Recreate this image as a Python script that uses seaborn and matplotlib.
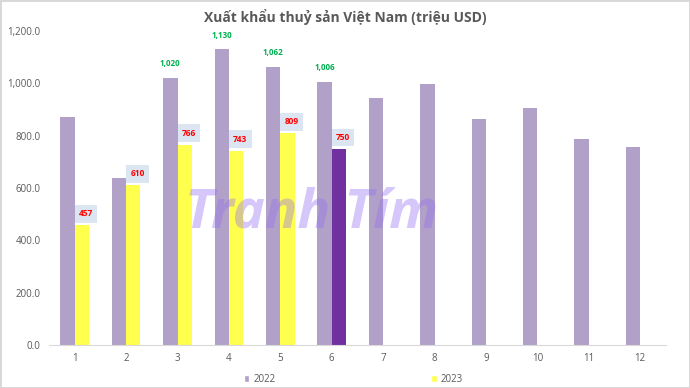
import matplotlib
matplotlib.use('Agg')
import matplotlib.pyplot as plt
from matplotlib.patches import Patch
import pandas as pd
import seaborn as sns

# du lieu (trieu USD)
thang = [str(i) for i in range(1, 13)]
xk_2022 = [870, 638, 1020, 1130, 1062, 1006, 943, 998, 862, 906, 787, 755]
xk_2023 = [457, 610, 766, 743, 809, 750]
nhan_2022 = ['', '', '1,020', '1,130', '1,062', '1,006', '', '', '', '', '', '']
nhan_2023 = ['457', '610', '766', '743', '809', '750']

df = pd.DataFrame({
    'thang': thang + thang[:len(xk_2023)],
    'gia_tri': xk_2022 + xk_2023,
    'nam': ['2022'] * len(xk_2022) + ['2023'] * len(xk_2023),
})

sns.set_style('white')
plt.rcParams['font.family'] = ['Open Sans', 'DejaVu Sans']

mau = {'2022': '#B1A0C7', '2023': '#FFFF4D'}
fig = plt.figure(figsize=(6.9, 3.88), dpi=100)
ax = fig.add_axes([0.071, 0.111, 0.894, 0.809])
sns.barplot(data=df, x='thang', y='gia_tri', hue='nam', order=thang,
            hue_order=['2022', '2023'], palette=mau, width=0.56,
            saturation=1, legend=False, ax=ax, edgecolor='none')

# thang 6 nam 2023 mau tim dam
ax.containers[1][5].set_facecolor('#7030A0')

# nhan 2022 (xanh la)
for bar, txt in zip(ax.containers[0], nhan_2022):
    if txt:
        ax.annotate(txt, (bar.get_x() + bar.get_width() / 2, bar.get_height()),
                    xytext=(0, 7), textcoords='offset points', ha='center', va='bottom',
                    fontsize=5.8, fontweight='bold', color='#00B050')

# nhan 2023 (do, nen xanh nhat)
for bar, txt in zip(ax.containers[1], nhan_2023):
    ax.annotate(txt, (bar.get_x() + bar.get_width() / 2, bar.get_height()),
                xytext=(3, 5), textcoords='offset points', ha='center', va='bottom',
                fontsize=6, fontweight='bold', color='#FF0000',
                bbox=dict(boxstyle='square,pad=0.5', facecolor='#DCE6F2', edgecolor='none'))

ax.set_ylim(0, 1200)
ax.set_yticks(range(0, 1201, 200))
ax.set_yticklabels([f'{v:,.1f}' for v in range(0, 1201, 200)])
ax.set_xlim(-0.5, 11.5)
ax.set_xlabel('')
ax.set_ylabel('')
ax.tick_params(axis='both', length=0, labelsize=7, labelcolor='#595959', pad=6)
sns.despine(ax=ax, left=True)
ax.spines['bottom'].set_color('#D9D9D9')

fig.text(0.5, 0.955, 'Xuất khẩu thuỷ sản Việt Nam (triệu USD)', ha='center', va='center',
         fontsize=10, fontweight='bold', color='#595959')

# watermark
ax.text(0.426, 0.42, 'Tranh Tím', transform=ax.transAxes, ha='center', va='center',
        fontsize=39, fontweight='bold', fontstyle='italic', color='#9673F0', alpha=0.4)

handles = [Patch(facecolor=mau['2022'], label='2022'), Patch(facecolor=mau['2023'], label='2023')]
fig.legend(handles=handles, loc='center', bbox_to_anchor=(0.512, 0.022), ncol=2, frameon=False,
           fontsize=7, labelcolor='#595959', handlelength=0.6, handleheight=0.6,
           handletextpad=0.4, columnspacing=16)

fig.patch.set_edgecolor('#D9D9D9')
fig.patch.set_linewidth(2)
fig.savefig('out.png', dpi=100)
